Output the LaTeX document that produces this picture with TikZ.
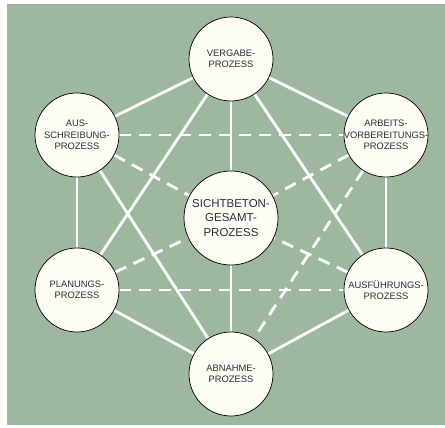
\documentclass[tikz,border=0pt]{standalone}
\usepackage{fontspec}
\setmainfont{Liberation Sans}
\usepackage{tikz}
\pgfdeclarelayer{background}
\pgfsetlayers{background,main}

\definecolor{bgGreen}{RGB}{158,184,160}
\definecolor{nodeFill}{RGB}{253,253,245}
\definecolor{txtGrey}{RGB}{45,45,45}

\newcommand{\wideline}[1]{\makebox[0pt]{#1}}

\begin{document}
\begin{tikzpicture}[x=0.03cm, y=-0.03cm]

    % Frame
    \useasboundingbox (0,0) rectangle (445,428);

    % Process circles
    \tikzset{nP/.style={draw=black, line width=0.6pt, shape=circle, fill=nodeFill, text=txtGrey, inner sep=0pt, minimum size=2.52cm, align=center, font=\fontsize{8}{9.6}\selectfont}}
    \tikzset{cP/.style={nP, minimum size=2.82cm, font=\fontsize{9.8}{12.3}\selectfont}}

    % Connections
    \tikzset{lS/.style={draw=white, line width=2.4pt}}
    \tikzset{lD/.style={lS, dash pattern=on 0.36cm off 0.24cm}}

    % Process nodes
    \node (ver) [nP] at (231, 59) {VERGABE-\\PROZESS};
    	\node (aus) [nP] at (77, 135) {AUS-\\SCHREIBUNG-\\PROZESS};
    	\node (arb) [nP] at (386, 135) {ARBEITS-\\\wideline{VORBEREITUNGS-}\\PROZESS};
    	\node (ges) [cP] at (231, 218) {SICHTBETON-\\GESAMT-\\PROZESS};
    	\node (pla) [nP] at (77, 290) {PLANUNGS-\\PROZESS};
    	\node (afu) [nP] at (386, 290) {AUSFÜHRUNGS-\\PROZESS};
    \node (abn) [nP] at (231, 374) {ABNAHME-\\PROZESS};

    % Background image
    \begin{pgfonlayer}{background}

    	% Green field
    	\fill[bgGreen] (7, 4) rectangle (445, 425);

    	% Solid links
    	\path[lS] (ver) -- (aus);
    	\path[lS] (ver) -- (arb);
    	\path[lS] (ver) -- (ges);
    	\path[lS] (ver) -- (pla);
    	\path[lS] (ver) -- (afu);
    		\path[lS] (aus) -- (pla);
    		\path[lS] (aus) -- (abn);
    		\path[lS] (arb) -- (afu);
    		\path[lS] (pla) -- (abn);
    		\path[lS] (afu) -- (abn);
    	\path[lS] (ges) -- (abn);

    	% Dashed links
    	\path[lD] (aus) -- (arb);
    	\path[lD] (pla) -- (afu);
    	\path[lD] (aus) -- (ges);
    	\path[lD] (arb) -- (ges);
    	\path[lD] (pla) -- (ges);
    	\path[lD] (afu) -- (ges);
    	\path[lD] (arb) -- (abn);

    \end{pgfonlayer}

\end{tikzpicture}
\end{document}
